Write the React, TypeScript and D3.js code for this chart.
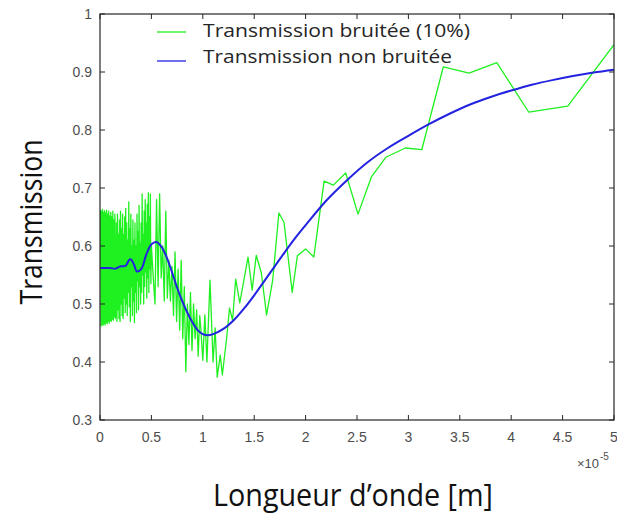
import React from 'react';
import * as d3 from 'd3';

const xTicks = [0, 0.5, 1, 1.5, 2, 2.5, 3, 3.5, 4, 4.5, 5];
const xTickLabels = ['0', '0.5', '1', '1.5', '2', '2.5', '3', '3.5', '4', '4.5', '5'];
const yTicks = [0.3, 0.4, 0.5, 0.6, 0.7, 0.8, 0.9, 1];
const yTickLabels = ['0.3', '0.4', '0.5', '0.6', '0.7', '0.8', '0.9', '1'];
const legendLabels = ['Transmission bruitée (10%)', 'Transmission non bruitée'];
const xAxisTitle = 'Longueur d\u2019onde [m]';
const yAxisTitle = 'Transmission';

// wavelength in units of 1e-5 m
const smoothWavelength = [0, 0.1, 0.15, 0.2, 0.25, 0.28, 0.3, 0.33, 0.36, 0.4, 0.45, 0.5, 0.55, 0.6, 0.65, 0.7, 0.75, 0.8, 0.85, 0.9, 0.95, 1.0, 1.05, 1.1, 1.2, 1.3, 1.4, 1.5, 1.6, 1.7, 1.8, 1.9, 2.0, 2.2, 2.4, 2.6, 2.8, 3.0, 3.2, 3.4, 3.6, 3.8, 4.0, 4.2, 4.4, 4.6, 4.8, 5.0];
const smoothTransmission = [0.562, 0.562, 0.561, 0.565, 0.566, 0.575, 0.577, 0.568, 0.556, 0.56, 0.585, 0.603, 0.607, 0.598, 0.58, 0.555, 0.528, 0.505, 0.485, 0.468, 0.455, 0.448, 0.446, 0.448, 0.457, 0.472, 0.492, 0.515, 0.54, 0.565, 0.59, 0.614, 0.636, 0.678, 0.713, 0.744, 0.769, 0.79, 0.81, 0.828, 0.844, 0.857, 0.868, 0.878, 0.886, 0.893, 0.899, 0.904];

const noisyPoints: [number, number][] = [
  [0, 0.56], [0.005, 0.662], [0.01, 0.462], [0.015, 0.66], [0.02, 0.465], [0.025, 0.663], [0.03, 0.463], [0.035, 0.658], [0.04, 0.466], [0.045, 0.661], [0.05, 0.464], [0.055, 0.657], [0.06, 0.468], [0.065, 0.662], [0.07, 0.466], [0.075, 0.655], [0.08, 0.47], [0.085, 0.66], [0.09, 0.467], [0.095, 0.652], [0.1, 0.472], [0.105, 0.658], [0.11, 0.47], [0.115, 0.65], [0.12, 0.474], [0.125, 0.66], [0.13, 0.472], [0.135, 0.645], [0.14, 0.478], [0.145, 0.655], [0.15, 0.475],
  [0.155, 0.48], [0.16, 0.64], [0.165, 0.47], [0.17, 0.655], [0.175, 0.49], [0.18, 0.62], [0.185, 0.475], [0.19, 0.645], [0.195, 0.47], [0.2, 0.66], [0.205, 0.5], [0.21, 0.63], [0.215, 0.48], [0.22, 0.655], [0.225, 0.475], [0.23, 0.62], [0.235, 0.51], [0.24, 0.65], [0.245, 0.485], [0.25, 0.665], [0.255, 0.5], [0.26, 0.64], [0.265, 0.48], [0.27, 0.61], [0.275, 0.52], [0.28, 0.676], [0.285, 0.495], [0.29, 0.63], [0.295, 0.47], [0.3, 0.655], [0.305, 0.53], [0.31, 0.6], [0.315, 0.48], [0.32, 0.645], [0.325, 0.505], [0.33, 0.61], [0.335, 0.468], [0.34, 0.64], [0.345, 0.52], [0.35, 0.6], [0.355, 0.485], [0.36, 0.655], [0.365, 0.54], [0.37, 0.625], [0.375, 0.49], [0.38, 0.67], [0.385, 0.53], [0.39, 0.605], [0.395, 0.5], [0.4, 0.64], [0.405, 0.52], [0.41, 0.69], [0.415, 0.55], [0.42, 0.62], [0.425, 0.5], [0.43, 0.66], [0.435, 0.53], [0.44, 0.68], [0.445, 0.555], [0.45, 0.64], [0.455, 0.51], [0.46, 0.672], [0.465, 0.545], [0.47, 0.692], [0.475, 0.52], [0.48, 0.65], [0.485, 0.56], [0.49, 0.69], [0.495, 0.535], [0.5, 0.6],
  [0.52, 0.54], [0.535, 0.5], [0.55, 0.68], [0.565, 0.53], [0.58, 0.69], [0.595, 0.545], [0.61, 0.6], [0.625, 0.505], [0.64, 0.66], [0.655, 0.51], [0.67, 0.575], [0.685, 0.505], [0.7, 0.565], [0.715, 0.48], [0.73, 0.59], [0.745, 0.47], [0.76, 0.56], [0.775, 0.455], [0.79, 0.575], [0.805, 0.44], [0.82, 0.53], [0.835, 0.383], [0.85, 0.5], [0.865, 0.43], [0.88, 0.52], [0.895, 0.42], [0.91, 0.5], [0.925, 0.44], [0.94, 0.49], [0.955, 0.41], [0.97, 0.48],
  [0.98, 0.46], [1.0, 0.403], [1.02, 0.481], [1.04, 0.4], [1.07, 0.541], [1.1, 0.4], [1.12, 0.459], [1.14, 0.374], [1.17, 0.412], [1.19, 0.378], [1.23, 0.438], [1.26, 0.493], [1.29, 0.472], [1.32, 0.543], [1.36, 0.502], [1.44, 0.581], [1.48, 0.524], [1.52, 0.584], [1.57, 0.553], [1.62, 0.481], [1.68, 0.541], [1.74, 0.657], [1.79, 0.641], [1.87, 0.52], [1.92, 0.583], [2.0, 0.595], [2.08, 0.581], [2.18, 0.712], [2.27, 0.705], [2.39, 0.726], [2.51, 0.655], [2.64, 0.719], [2.78, 0.753], [2.97, 0.769], [3.13, 0.766], [3.34, 0.909], [3.59, 0.898], [3.86, 0.916], [4.17, 0.831], [4.55, 0.841], [5.0, 0.947],
];

const W = 617;
const H = 515;
const left = 100;
const right = 614;
const top = 14;
const bottom = 420;

const GREEN = '#1ff01f';
const BLUE = '#2222e0';
const AXIS = '#262626';
const TICK_TEXT = '#4d4d4d';

export default function App() {
  const x = d3.scaleLinear().domain([0, 5]).range([left, right]);
  const y = d3.scaleLinear().domain([0.3, 1]).range([bottom, top]);

  const noisyLine = d3
    .line<[number, number]>()
    .x((d) => x(d[0]))
    .y((d) => y(d[1]))(noisyPoints) as string;

  const smoothData = smoothWavelength.map((w, i) => [w, smoothTransmission[i]] as [number, number]);
  const smoothLine = d3
    .line<[number, number]>()
    .x((d) => x(d[0]))
    .y((d) => y(d[1]))
    .curve(d3.curveCatmullRom.alpha(0.5))(smoothData) as string;

  const tickLen = 5;

  return (
    <svg width={W} height={H} style={{ position: 'absolute', left: 0, top: 0, background: '#fff' }}>
      <defs>
        <clipPath id="plotClip">
          <rect x={left} y={top} width={right - left} height={bottom - top} />
        </clipPath>
      </defs>
      <rect x={0} y={0} width={W} height={H} fill="#fff" />

      <g clipPath="url(#plotClip)">
        <path d={noisyLine} fill="none" stroke={GREEN} strokeWidth={1.3} strokeLinejoin="round" />
        <path d={smoothLine} fill="none" stroke={BLUE} strokeWidth={2} strokeLinejoin="round" />
      </g>

      {/* frame */}
      <rect x={left} y={top} width={right - left} height={bottom - top} fill="none" stroke={AXIS} strokeWidth={1.2} />

      {/* x ticks */}
      {xTicks.map((t, i) => (
        <g key={'xt' + i}>
          <line x1={x(t)} x2={x(t)} y1={bottom} y2={bottom - tickLen} stroke={AXIS} strokeWidth={1} />
          <line x1={x(t)} x2={x(t)} y1={top} y2={top + tickLen} stroke={AXIS} strokeWidth={1} />
          <text x={x(t)} y={bottom + 22} textAnchor="middle" fontFamily="Liberation Sans, Arial, sans-serif" fontSize={14} fill={TICK_TEXT}>
            {xTickLabels[i]}
          </text>
        </g>
      ))}
      {/* y ticks */}
      {yTicks.map((t, i) => (
        <g key={'yt' + i}>
          <line x1={left} x2={left + tickLen} y1={y(t)} y2={y(t)} stroke={AXIS} strokeWidth={1} />
          <line x1={right} x2={right - tickLen} y1={y(t)} y2={y(t)} stroke={AXIS} strokeWidth={1} />
          <text x={left - 8} y={y(t) + 5} textAnchor="end" fontFamily="Liberation Sans, Arial, sans-serif" fontSize={14} fill={TICK_TEXT}>
            {yTickLabels[i]}
          </text>
        </g>
      ))}

      {/* exponent */}
      <text x={599} y={468} textAnchor="end" fontFamily="Liberation Sans, Arial, sans-serif" fontSize={13} fill={TICK_TEXT}>
        {'\u00d710'}
      </text>
      <text x={600} y={460} textAnchor="start" fontFamily="Liberation Sans, Arial, sans-serif" fontSize={10} fill={TICK_TEXT}>
        {'-5'}
      </text>

      {/* legend */}
      <line x1={157} x2={186} y1={32} y2={32} stroke={GREEN} strokeWidth={1.3} />
      <line x1={157} x2={186} y1={61} y2={61} stroke={BLUE} strokeWidth={1.3} />
      <text x={203} y={37} fontFamily="Open Sans, Noto Sans, sans-serif" fontSize={19} fill={AXIS} textLength={267} lengthAdjust="spacingAndGlyphs">
        {legendLabels[0]}
      </text>
      <text x={203} y={63} fontFamily="Open Sans, Noto Sans, sans-serif" fontSize={19} fill={AXIS} textLength={249} lengthAdjust="spacingAndGlyphs">
        {legendLabels[1]}
      </text>

      {/* axis titles */}
      <text x={353} y={506} textAnchor="middle" fontFamily="Open Sans, Noto Sans, sans-serif" fontSize={31} fill="#111" textLength={280} lengthAdjust="spacingAndGlyphs">
        {xAxisTitle}
      </text>
      <text
        transform={`translate(42, 222) rotate(-90)`}
        textAnchor="middle"
        fontFamily="Open Sans, Noto Sans, sans-serif"
        fontSize={31}
        fill="#111"
        textLength={165}
        lengthAdjust="spacingAndGlyphs"
      >
        {yAxisTitle}
      </text>
    </svg>
  );
}
